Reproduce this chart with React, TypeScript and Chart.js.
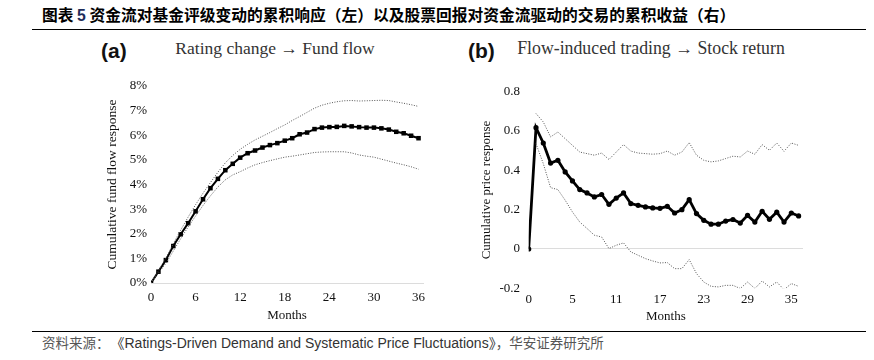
import React, { useEffect, useRef } from 'react';
import { Chart, registerables } from 'chart.js';

Chart.register(...registerables);

// ---------- Panel (a): Rating change -> Fund flow (percent) ----------
const monthsA = [0, 1, 2, 3, 4, 5, 6, 7, 8, 9, 10, 11, 12, 13, 14, 15, 16, 17, 18, 19, 20, 21, 22, 23, 24, 25, 26, 27, 28, 29, 30, 31, 32, 33, 34, 35, 36];
const flowMain = [0, 0.46, 0.93, 1.5, 1.98, 2.43, 2.91, 3.4, 3.85, 4.23, 4.58, 4.84, 5.09, 5.27, 5.38, 5.5, 5.6, 5.68, 5.78, 5.88, 6.04, 6.11, 6.25, 6.31, 6.33, 6.34, 6.38, 6.36, 6.33, 6.31, 6.31, 6.28, 6.23, 6.14, 6.08, 5.98, 5.88];
const flowUpper = [0, 0.5, 1.02, 1.6, 2.15, 2.68, 3.18, 3.65, 4.08, 4.5, 4.88, 5.18, 5.43, 5.63, 5.81, 5.96, 6.11, 6.27, 6.42, 6.6, 6.76, 6.93, 7.1, 7.22, 7.3, 7.36, 7.4, 7.41, 7.39, 7.4, 7.41, 7.42, 7.41, 7.35, 7.3, 7.24, 7.17];
const flowLower = [0, 0.4, 0.8, 1.3, 1.8, 2.28, 2.72, 3.15, 3.54, 3.9, 4.19, 4.39, 4.52, 4.67, 4.8, 4.89, 4.97, 5.04, 5.11, 5.15, 5.2, 5.25, 5.3, 5.32, 5.33, 5.33, 5.33, 5.28, 5.2, 5.15, 5.11, 5.03, 4.95, 4.87, 4.8, 4.72, 4.62];
const ticksAX = [0, 6, 12, 18, 24, 30, 36];
const ticksAY = [0, 1, 2, 3, 4, 5, 6, 7, 8];

// ---------- Panel (b): Flow-induced trading -> Stock return ----------
const stepsB = [0, 1, 2, 3, 4, 5, 6, 7, 8, 9, 10, 11, 12, 13, 14, 15, 16, 17, 18, 19, 20, 21, 22, 23, 24, 25, 26, 27, 28, 29, 30, 31, 32, 33, 34, 35, 36, 37];
const priceMain = [0, 0.617, 0.539, 0.437, 0.451, 0.392, 0.346, 0.302, 0.285, 0.265, 0.277, 0.227, 0.259, 0.285, 0.231, 0.222, 0.214, 0.209, 0.207, 0.217, 0.183, 0.2, 0.251, 0.18, 0.146, 0.126, 0.126, 0.142, 0.15, 0.132, 0.171, 0.137, 0.192, 0.151, 0.187, 0.137, 0.183, 0.168];
const priceUpper = [null, 0.689, 0.646, 0.57, 0.595, 0.561, 0.527, 0.493, 0.485, 0.477, 0.488, 0.455, 0.493, 0.531, 0.498, 0.488, 0.485, 0.482, 0.485, 0.498, 0.477, 0.493, 0.541, 0.477, 0.451, 0.443, 0.448, 0.46, 0.472, 0.468, 0.498, 0.482, 0.531, 0.502, 0.539, 0.497, 0.539, 0.527];
const priceLower = [null, 0.536, 0.434, 0.312, 0.302, 0.248, 0.188, 0.137, 0.104, 0.07, 0.061, 0.002, 0.019, 0.031, -0.015, -0.032, -0.049, -0.061, -0.071, -0.069, -0.1, -0.1, -0.054, -0.125, -0.168, -0.19, -0.193, -0.185, -0.185, -0.201, -0.168, -0.201, -0.163, -0.193, -0.168, -0.207, -0.176, -0.19];
const ticksBX = [0, 6, 12, 18, 24, 30, 36];
const ticksBY = [-0.2, 0, 0.2, 0.4, 0.6, 0.8];

const SERIF = '"Liberation Serif", "Times New Roman", serif';
const tickFont = { family: SERIF, size: 13 };
const BAND_COLOR = '#555555';

function pts(xs: number[], ys: (number | null)[]) {
  const out: { x: number; y: number }[] = [];
  xs.forEach((x, i) => {
    const y = ys[i];
    if (y !== null && y !== undefined) out.push({ x, y });
  });
  return out;
}

function ChartA() {
  const ref = useRef<HTMLCanvasElement>(null);
  useEffect(() => {
    const chart = new Chart(ref.current!, {
      type: 'line',
      data: {
        datasets: [
          {
            data: pts(monthsA, flowUpper),
            borderColor: BAND_COLOR,
            borderWidth: 1,
            borderDash: [1, 1.5],
            pointRadius: 0,
            tension: 0,
          },
          {
            data: pts(monthsA, flowLower),
            borderColor: BAND_COLOR,
            borderWidth: 1,
            borderDash: [1, 1.5],
            pointRadius: 0,
            tension: 0,
          },
          {
            data: pts(monthsA, flowMain),
            borderColor: '#000',
            backgroundColor: '#000',
            borderWidth: 2,
            pointStyle: 'rect',
            pointRadius: 3.2,
            pointBorderWidth: 0,
            tension: 0,
          },
        ],
      },
      options: {
        animation: false,
        responsive: false,
        maintainAspectRatio: false,
        layout: { padding: { left: 0, top: 26, right: 17, bottom: 7 } },
        plugins: { legend: { display: false }, tooltip: { enabled: false } },
        scales: {
          x: {
            type: 'linear',
            min: 0,
            max: 36.6,
            afterBuildTicks: (s: any) => {
              s.ticks = ticksAX.map((v) => ({ value: v }));
            },
            afterFit: (s: any) => {
              s.height = 40;
            },
            ticks: { font: tickFont, color: '#111', padding: 7, maxRotation: 0, autoSkip: false, callback: (v: any) => String(v) },
            grid: { display: false, drawTicks: false },
            border: { display: true, color: '#dcdcdc', width: 1 },
            title: { display: true, text: 'Months', font: { family: SERIF, size: 13 }, color: '#111', padding: 0 },
          },
          y: {
            type: 'linear',
            min: 0,
            max: 8,
            afterBuildTicks: (s: any) => {
              s.ticks = ticksAY.map((v) => ({ value: v }));
            },
            afterFit: (s: any) => {
              s.width = 71;
            },
            ticks: { font: tickFont, color: '#111', padding: 4, callback: (v: any) => v + '%' },
            grid: { display: false, drawTicks: false },
            border: { display: false },
            title: {
              display: true,
              text: 'Cumulative fund flow response',
              font: { family: SERIF, size: 13.5 },
              color: '#111',
              padding: { top: 24, bottom: 0 },
            },
          },
        },
      },
    });
    return () => chart.destroy();
  }, []);
  return <canvas ref={ref} width={360} height={270} style={{ position: 'absolute', left: 80, top: 60, width: 360, height: 270 }} />;
}

function ChartB() {
  const ref = useRef<HTMLCanvasElement>(null);
  useEffect(() => {
    const chart = new Chart(ref.current!, {
      type: 'line',
      data: {
        datasets: [
          {
            data: pts(stepsB, priceUpper),
            borderColor: BAND_COLOR,
            borderWidth: 1,
            borderDash: [1, 1.5],
            pointRadius: 0,
            tension: 0,
          },
          {
            data: pts(stepsB, priceLower),
            borderColor: BAND_COLOR,
            borderWidth: 1,
            borderDash: [1, 1.5],
            pointRadius: 0,
            tension: 0,
          },
          {
            data: pts(stepsB, priceMain),
            borderColor: '#000',
            backgroundColor: '#000',
            borderWidth: 2.8,
            pointStyle: 'circle',
            pointRadius: 2.6,
            pointBorderWidth: 0,
            tension: 0,
          },
        ],
      },
      options: {
        animation: false,
        responsive: false,
        maintainAspectRatio: false,
        layout: { padding: { left: 0, top: 31.7, right: 71, bottom: 5.2 } },
        plugins: { legend: { display: false }, tooltip: { enabled: false } },
        scales: {
          x: {
            type: 'linear',
            min: 0,
            max: 37.6,
            afterBuildTicks: (s: any) => {
              s.ticks = ticksBX.map((v) => ({ value: v }));
            },
            afterFit: (s: any) => {
              s.height = 36.5;
            },
            ticks: {
              font: tickFont,
              color: '#111',
              padding: 3.2,
              maxRotation: 0,
              autoSkip: false,
              callback: (v: any) => (v === 0 ? '0' : String(v - 1)),
            },
            grid: { display: false, drawTicks: false },
            border: { display: false },
            title: { display: true, text: 'Months', font: { family: SERIF, size: 13 }, color: '#111', padding: 0 },
          },
          y: {
            type: 'linear',
            min: -0.2,
            max: 0.8,
            afterBuildTicks: (s: any) => {
              s.ticks = ticksBY.map((v) => ({ value: v }));
            },
            afterFit: (s: any) => {
              s.width = 88.7;
            },
            ticks: {
              font: tickFont,
              color: '#111',
              padding: 8.7,
              callback: (v: any) => (Math.abs(v) < 1e-9 ? '0' : Number(v).toFixed(1)),
            },
            grid: {
              display: true,
              drawTicks: false,
              lineWidth: 1,
              color: (ctx: any) => (ctx.tick && Math.abs(ctx.tick.value) < 1e-9 ? '#dcdcdc' : 'rgba(0,0,0,0)'),
            },
            border: { display: false },
            title: {
              display: true,
              text: 'Cumulative price response',
              font: { family: SERIF, size: 13 },
              color: '#111',
              padding: { top: 38.9, bottom: 0 },
            },
          },
        },
      },
    });
    return () => chart.destroy();
  }, []);
  return <canvas ref={ref} width={434} height={270} style={{ position: 'absolute', left: 440, top: 60, width: 434, height: 270 }} />;
}

export default function App() {
  const cjk = '"Noto Sans CJK SC", sans-serif';
  return (
    <div style={{ position: 'fixed', left: 0, top: 0, width: 874, height: 360, background: '#fff', overflow: 'hidden' }}>
      <div
        style={{
          position: 'absolute',
          left: 42,
          top: 5,
          lineHeight: '20px',
          fontFamily: cjk,
          fontWeight: 700,
          fontSize: 15.75,
          color: '#000',
          whiteSpace: 'nowrap',
        }}
      >
        图表 <span style={{ color: '#1f2d5a', fontFamily: '"Liberation Sans", Arial, sans-serif' }}>5</span> 资金流对基金评级变动的累积响应（左）以及股票回报对资金流驱动的交易的累积收益（右）
      </div>
      <div style={{ position: 'absolute', left: 32, top: 29, width: 834, height: 1, background: '#000' }} />

      <div style={{ position: 'absolute', left: 101, top: 38, lineHeight: '26px', fontFamily: '"Liberation Sans", Arial, sans-serif', fontWeight: 700, fontSize: 21, color: '#111' }}>(a)</div>
      <div style={{ position: 'absolute', left: 275, top: 36, transform: 'translateX(-50%)', lineHeight: '24px', fontFamily: SERIF, fontSize: 17.5, color: '#333', whiteSpace: 'nowrap' }}>
        Rating change → Fund flow
      </div>
      <div style={{ position: 'absolute', left: 468, top: 38, lineHeight: '26px', fontFamily: '"Liberation Sans", Arial, sans-serif', fontWeight: 700, fontSize: 21, color: '#111' }}>(b)</div>
      <div style={{ position: 'absolute', left: 651, top: 36, transform: 'translateX(-50%)', lineHeight: '24px', fontFamily: SERIF, fontSize: 17.8, color: '#333', whiteSpace: 'nowrap' }}>
        Flow-induced trading → Stock return
      </div>

      <ChartA />
      <ChartB />

      <div style={{ position: 'absolute', left: 32, top: 331, width: 834, height: 1, background: '#000' }} />
      <div
        style={{
          position: 'absolute',
          left: 42,
          top: 334,
          lineHeight: '17px',
          fontSize: 14,
          whiteSpace: 'nowrap',
          color: '#333',
          fontFamily: '"Liberation Sans", Arial, "Noto Sans CJK SC", sans-serif',
        }}
      >
        <span style={{ fontFamily: cjk, color: '#555', fontSize: 13.5 }}>资料来源：</span>
        <span style={{ marginLeft: 8 }}>《Ratings-Driven Demand and Systematic Price Fluctuations》</span>
        <span style={{ fontFamily: cjk, color: '#555', fontSize: 13.5 }}>，华安证券研究所</span>
      </div>
    </div>
  );
}
